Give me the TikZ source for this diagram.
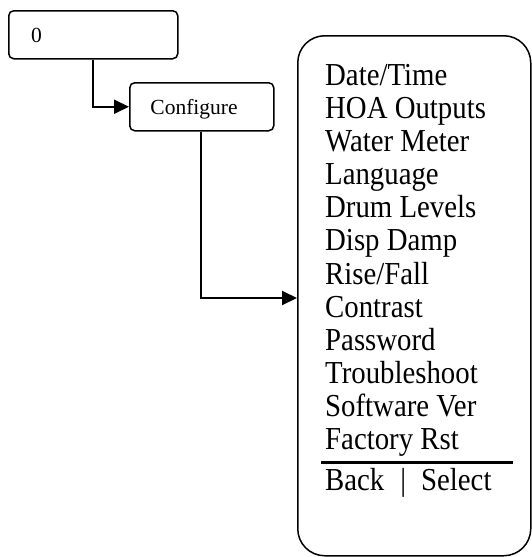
\documentclass[tikz,border=0pt]{standalone}
\usepackage{fontspec}
\setmainfont{Liberation Serif}
\newfontfamily\menufont[FakeStretch=0.9]{Liberation Serif}
\usetikzlibrary{arrows.meta}
\begin{document}
\begin{tikzpicture}[x=1pt,y=-1pt,
  box/.style={draw, line width=1.5pt, anchor=north west, inner sep=0pt},
  conn/.style={line width=2pt, -{Triangle[length=15pt,width=14pt]}},
  item/.style={anchor=base west, inner sep=0pt, font=\menufont\fontsize{32}{32}\selectfont},
  small/.style={inner sep=0pt, font=\fontsize{21.5}{21.5}\selectfont}]
\useasboundingbox (0,0) rectangle (531,557);
% boxes
\node[box, rounded corners=5pt, minimum width=169pt, minimum height=48pt] (zero) at (8,10) {};
\node[small, anchor=base west] (zerolbl) at (31,42) {0};
\node[box, rounded corners=5pt, minimum width=144pt, minimum height=48pt] (cfg) at (129,82) {};
\node[small, anchor=base] (cfglbl) at (194,114) {Configure};
\node[box, rounded corners=27pt, minimum width=233pt, minimum height=520pt] (menu) at (297,35) {};
% connectors
\coordinate (entry) at (297,298);
\draw[conn] ([xshift=85pt]zero.south west) |- (cfg.west);
\draw[conn] ([xshift=72pt]cfg.south west) |- (entry);
% menu items
\foreach \t [count=\k from 0] in {Date/Time, HOA Outputs, Water Meter, Language, Drum Levels, Disp Damp, Rise/Fall, Contrast, Password, Troubleshoot, Software Ver, Factory Rst}
  \node[item] (item\k) at (325, 85+33.18*\k) {\t};
\draw[line width=3pt] (321,462) -- (513,462);
\node[item] (backsel) at (325,490) {Back\hspace{16pt}|\hspace{15pt}Select};
\end{tikzpicture}
\end{document}
